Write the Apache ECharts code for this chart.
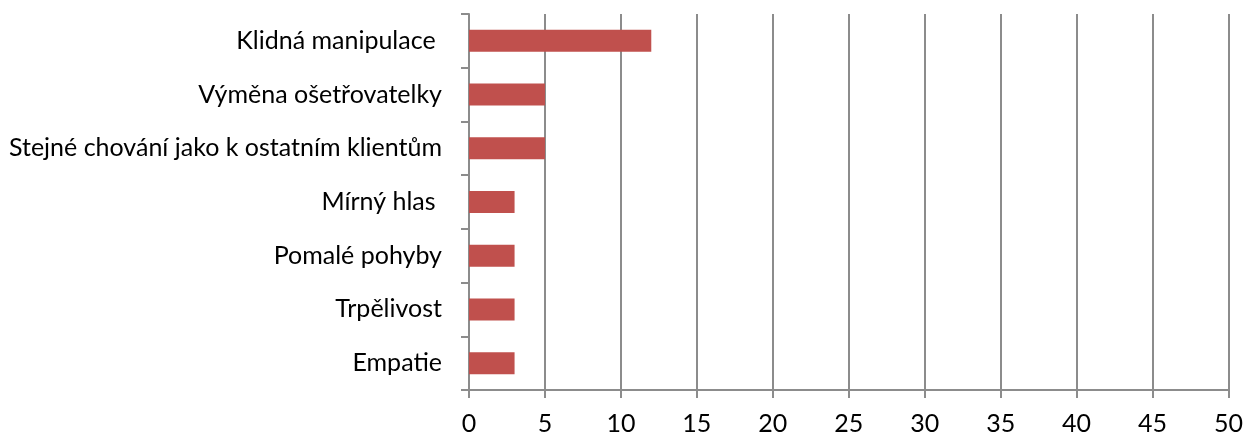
<!DOCTYPE html>
<html>
<head>
<meta charset="utf-8">
<script src="https://cdn.jsdelivr.net/npm/echarts@6/dist/echarts.min.js"></script>
<style>
  html, body { margin: 0; padding: 0; background: #fff; }
  #chart { width: 1246px; height: 436px; }
</style>
</head>
<body>
<div id="chart"></div>
<script>
// kategorie shora dolů
const categories = [
  'Klidná manipulace ',
  'Výměna ošetřovatelky',
  'Stejné chování jako k ostatním klientům',
  'Mírný hlas ',
  'Pomalé pohyby',
  'Trpělivost',
  'Empatie'
]
const values = [12, 5, 5, 3, 3, 3, 3]
const xTicks = [0, 5, 10, 15, 20, 25, 30, 35, 40, 45, 50]

const chart = echarts.init(document.getElementById('chart'))
const fontFamily = 'Lato, "Open Sans", sans-serif'

chart.setOption({
  animation: false,
  grid: {
    left: 469,
    right: 17,
    top: 14,
    bottom: 46
  },
  xAxis: {
    type: 'value',
    min: xTicks[0],
    max: xTicks[xTicks.length - 1],
    interval: 5,
    axisLine: { show: true, lineStyle: { color: '#8c8c8c', width: 2 } },
    axisTick: { show: true, length: 8, lineStyle: { color: '#8c8c8c', width: 2 } },
    axisLabel: {
      color: '#000',
      fontSize: 25,
      fontFamily: fontFamily,
      margin: 21
    },
    splitLine: { show: true, lineStyle: { color: '#8c8c8c', width: 2 } }
  },
  yAxis: {
    type: 'category',
    data: categories,
    inverse: true,
    axisLine: { show: true, lineStyle: { color: '#8c8c8c', width: 2 } },
    axisTick: { show: true, length: 8, lineStyle: { color: '#8c8c8c', width: 2 } },
    axisLabel: {
      color: '#000',
      fontSize: 25,
      fontFamily: fontFamily,
      margin: 27
    }
  },
  series: [
    {
      type: 'bar',
      data: values,
      barWidth: '41%',
      itemStyle: { color: '#c0504d' }
    }
  ]
})
</script>
</body>
</html>
